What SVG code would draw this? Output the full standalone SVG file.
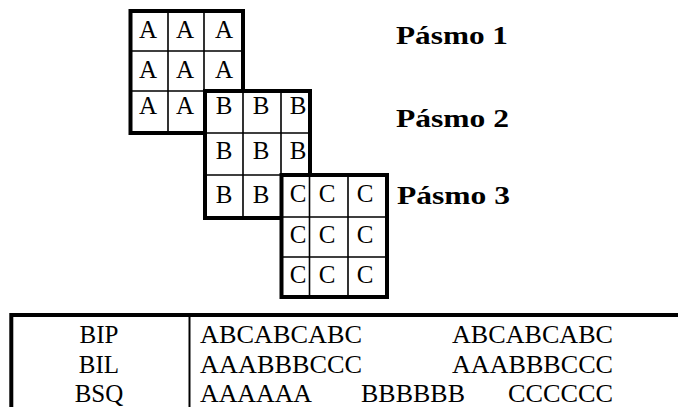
<svg xmlns="http://www.w3.org/2000/svg" width="678" height="407" viewBox="0 0 678 407">
<style>
.frame{fill:#fff;stroke:#000;stroke-width:4}
.thin{stroke:#000;stroke-width:1.6;fill:none}
.cell{font-family:"Liberation Serif","Times New Roman",serif;font-size:25px;fill:#000;text-anchor:middle}
.lbl{font-family:"Liberation Serif","Times New Roman",serif;font-size:25px;font-weight:bold;fill:#000}
.tbl{font-family:"Liberation Serif","Times New Roman",serif;font-size:25px;fill:#000}
</style>
<rect width="678" height="407" fill="#fff"/>
<g id="zoneA">
<rect class="frame" x="130.5" y="11" width="112.5" height="122"/>
<path class="thin" d="M168 11V133M204 11V133M130.5 51H243M130.5 91H243"/>
<text class="cell" x="148" y="38">A</text><text class="cell" x="185" y="38">A</text><text class="cell" x="224" y="38">A</text>
<text class="cell" x="148" y="78">A</text><text class="cell" x="185" y="78">A</text><text class="cell" x="224" y="78">A</text>
<text class="cell" x="148" y="114">A</text><text class="cell" x="185" y="114">A</text>
</g>
<g id="zoneB">
<rect class="frame" x="205" y="91" width="105" height="127"/>
<path class="thin" d="M243 91V218M281 91V218M205 133H310M205 175H310"/>
<text class="cell" x="224" y="114">B</text><text class="cell" x="261" y="114">B</text><text class="cell" x="298" y="114">B</text>
<text class="cell" x="224" y="159">B</text><text class="cell" x="261" y="159">B</text><text class="cell" x="298" y="159">B</text>
<text class="cell" x="224" y="203">B</text><text class="cell" x="261" y="203">B</text>
</g>
<g id="zoneC">
<rect class="frame" x="281.5" y="175" width="105.5" height="122"/>
<path class="thin" d="M309.5 175V297M348 175V297M281.5 217H387M281.5 257H387"/>
<text class="cell" x="298" y="202">C</text><text class="cell" x="327" y="202">C</text><text class="cell" x="365" y="202">C</text>
<text class="cell" x="298" y="243">C</text><text class="cell" x="327" y="243">C</text><text class="cell" x="365" y="243">C</text>
<text class="cell" x="298" y="283">C</text><text class="cell" x="327" y="283">C</text><text class="cell" x="365" y="283">C</text>
</g>
<g id="labels">
<text class="lbl" x="396" y="44" textLength="112" lengthAdjust="spacingAndGlyphs">Pásmo 1</text>
<text class="lbl" x="396" y="127" textLength="113" lengthAdjust="spacingAndGlyphs">Pásmo 2</text>
<text class="lbl" x="397" y="204" textLength="113" lengthAdjust="spacingAndGlyphs">Pásmo 3</text>
</g>
<g id="table">
<path d="M9.3 315H678M11.3 313V407" stroke="#000" stroke-width="4" fill="none"/>
<path d="M189.5 315V407" stroke="#000" stroke-width="2" fill="none"/>
<text class="tbl" x="99" y="343" text-anchor="middle">BIP</text>
<text class="tbl" x="99" y="373" text-anchor="middle">BIL</text>
<text class="tbl" x="99" y="402" text-anchor="middle">BSQ</text>
<text class="tbl" x="200" y="343" textLength="162" lengthAdjust="spacingAndGlyphs">ABCABCABC</text>
<text class="tbl" x="452" y="343" textLength="161" lengthAdjust="spacingAndGlyphs">ABCABCABC</text>
<text class="tbl" x="200" y="373" textLength="162" lengthAdjust="spacingAndGlyphs">AAABBBCCC</text>
<text class="tbl" x="452" y="373" textLength="161" lengthAdjust="spacingAndGlyphs">AAABBBCCC</text>
<text class="tbl" x="200" y="402" textLength="112" lengthAdjust="spacingAndGlyphs">AAAAAA</text>
<text class="tbl" x="361" y="402" textLength="104" lengthAdjust="spacingAndGlyphs">BBBBBB</text>
<text class="tbl" x="508" y="402" textLength="105" lengthAdjust="spacingAndGlyphs">CCCCCC</text>
</g>
</svg>
